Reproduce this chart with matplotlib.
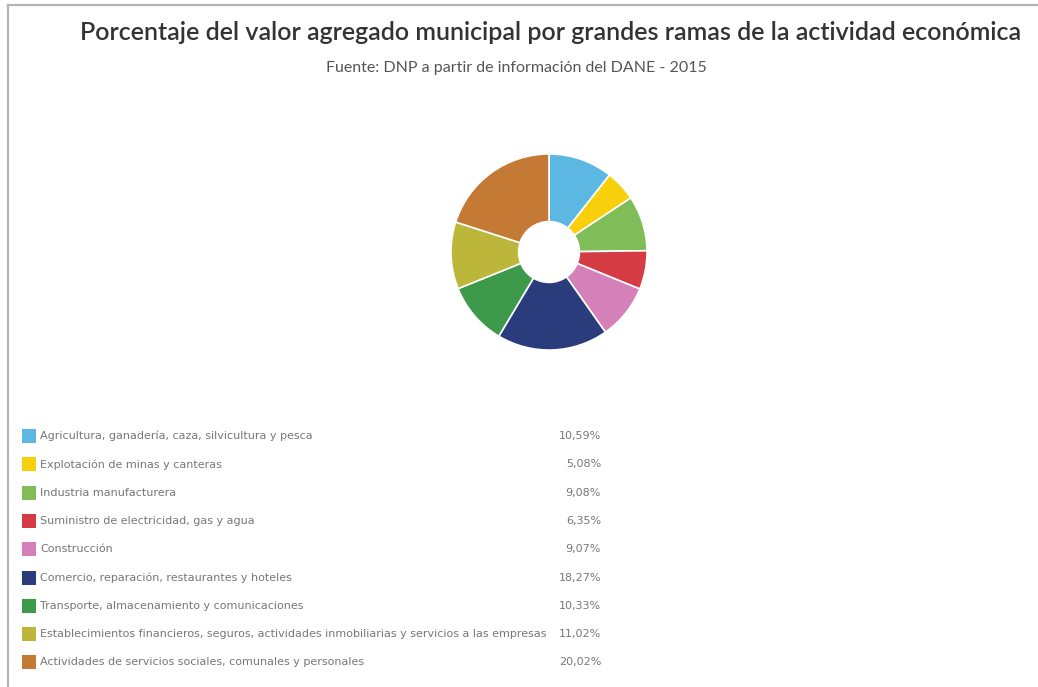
import matplotlib
matplotlib.use('Agg')
import matplotlib.pyplot as plt
from matplotlib.patches import Rectangle
from matplotlib.lines import Line2D

# datos del grafico
ramas = ['Agricultura, ganadería, caza, silvicultura y pesca',
         'Explotación de minas y canteras',
         'Industria manufacturera',
         'Suministro de electricidad, gas y agua',
         'Construcción',
         'Comercio, reparación, restaurantes y hoteles',
         'Transporte, almacenamiento y comunicaciones',
         'Establecimientos financieros, seguros, actividades inmobiliarias y servicios a las empresas',
         'Actividades de servicios sociales, comunales y personales']
porcentajes = [10.59, 5.08, 9.08, 6.35, 9.07, 18.27, 10.33, 11.02, 20.02]
etiquetas = ['10,59%', '5,08%', '9,08%', '6,35%', '9,07%', '18,27%', '10,33%', '11,02%', '20,02%']
colores = ['#5db7e3', '#f7cf0a', '#80bd58', '#d53b42', '#d580b9',
           '#2b3c7c', '#3d9a4b', '#bcb73b', '#c47a35']

W, H = 1038, 687
fig = plt.figure(figsize=(W / 100, H / 100), dpi=100)
fig.patch.set_facecolor('white')

# marco (solo borde superior e izquierdo visibles)
fig.add_artist(Line2D([8 / W, 1], [1 - 5 / H, 1 - 5 / H], color='#b5b5b5', lw=1.6))
fig.add_artist(Line2D([8 / W, 8 / W], [0, 1 - 5 / H], color='#b5b5b5', lw=1.6))

fig.text(551 / W, 1 - 33 / H, 'Porcentaje del valor agregado municipal por grandes ramas de la actividad económica',
         ha='center', va='center', fontsize=18, color='#333333', family='Lato', fontweight='semibold')
fig.text(516 / W, 1 - 68 / H, 'Fuente: DNP a partir de información del DANE - 2015',
         ha='center', va='center', fontsize=11.5, color='#555555', family='Lato')

# dona
cx, cy, r = 549, 252, 100
ax = fig.add_axes([(cx - r) / W, 1 - (cy + r) / H, 2 * r / W, 2 * r / H])
ax.pie(porcentajes, colors=colores, startangle=90, counterclock=False, radius=1,
       wedgeprops=dict(width=0.69, edgecolor='white', linewidth=1.2))
ax.set_xlim(-1.02, 1.02)
ax.set_ylim(-1.02, 1.02)
ax.axis('off')

# leyenda
y0, dy = 436, 28.3
for i in range(len(ramas)):
    y = y0 + i * dy
    fig.add_artist(Rectangle((22 / W, 1 - (y + 7) / H), 14 / W, 14 / H,
                             facecolor=colores[i], edgecolor='none'))
    fig.text(40 / W, 1 - y / H, ramas[i], ha='left', va='center',
             fontsize=8, color='#777777', family='DejaVu Sans')
    fig.text(601 / W, 1 - y / H, etiquetas[i], ha='right', va='center',
             fontsize=8, color='#777777', family='DejaVu Sans')

fig.savefig('out.png', dpi=100)
